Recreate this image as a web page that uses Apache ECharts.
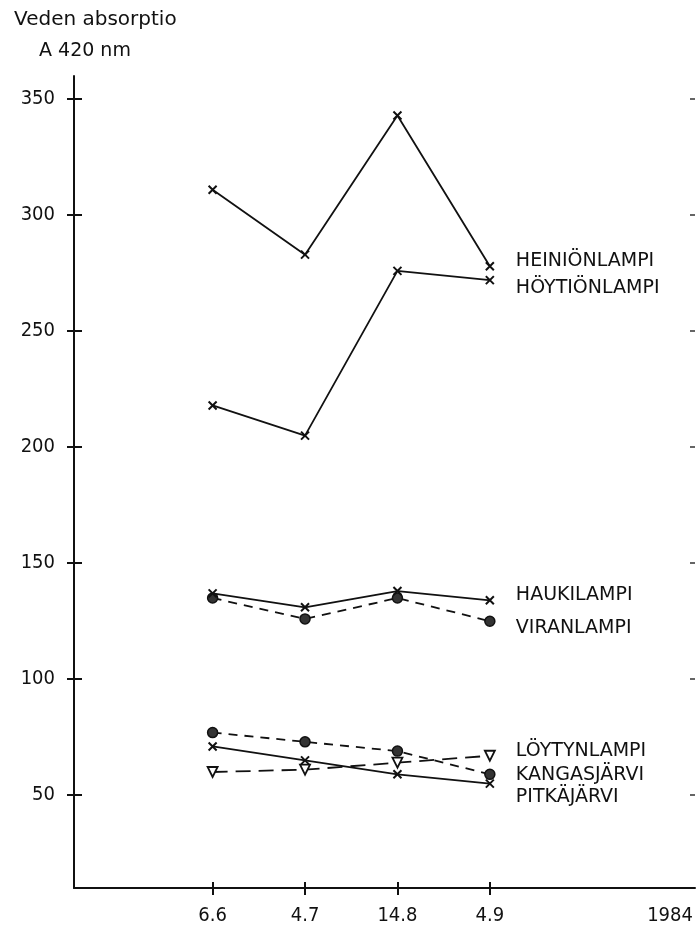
<!DOCTYPE html>
<html>
<head>
<meta charset="utf-8">
<script src="https://cdn.jsdelivr.net/npm/echarts@6/dist/echarts.min.js"></script>
<style>
  html, body { margin: 0; padding: 0; background: #fff; }
  #chart { width: 696px; height: 927px; }
</style>
</head>
<body>
<div id="chart"></div>
<script>
// Sampling dates (day.month) and the year shown at the end of the axis
const sampleDates = ['6.6', '4.7', '14.8', '4.9'];
const yearLabel = '1984';
const yTicks = [50, 100, 150, 200, 250, 300, 350];

// Water absorbance at 420 nm for each lake
const heinionlampi = [311, 283, 343, 278];
const hoytionlampi = [218, 205, 276, 272];
const haukilampi   = [137, 131, 138, 134];
const viranlampi   = [135, 126, 135, 125];
const loytynlampi  = [60, 61, 64, 67];
const kangasjarvi  = [77, 73, 69, 59];
const pitkajarvi   = [71, 65, 59, 55];

const INK = '#111';
const FONT = 'DejaVu Sans';
const FONT_C = 'DejaVu Sans Condensed';

// x positions: sample dates at 1..4, the year label near the right end
const datePos = sampleDates.map((d, i) => i + 1);
const yearPos = 5.95;
const X_MIN = -0.5, X_MAX = 6.22, Y_MIN = 10, Y_MAX = 360;

const GRID = { left: 74, right: 1, top: 76, bottom: 39 };
const CHART_W = 696, CHART_H = 927;
const gridW = CHART_W - GRID.left - GRID.right;
const gridH = CHART_H - GRID.top - GRID.bottom;

function pts(values) {
  return values.map((v, i) => [datePos[i], v]);
}

const crossMark = 'path://M0,0L10,10M10,0L0,10';

function lakeSeries(name, values, opts) {
  return {
    name: name,
    type: 'line',
    xAxisIndex: 0,
    yAxisIndex: 0,
    data: pts(values),
    symbol: opts.symbol,
    symbolSize: opts.size,
    symbolRotate: opts.rotate || 0,
    showAllSymbol: true,
    lineStyle: { color: INK, width: 1.8, type: opts.dash || 'solid' },
    itemStyle: opts.item,
    endLabel: {
      show: true,
      formatter: name,
      color: INK,
      fontFamily: FONT,
      fontSize: 19,
      distance: 0,
      offset: [26, opts.dy]
    },
    emphasis: { disabled: true },
    z: opts.z || 2
  };
}

const crossItem = { color: 'none', borderColor: INK, borderWidth: 2 };
const dotItem = { color: '#333', borderColor: INK, borderWidth: 1.5 };
const triItem = { color: '#fff', borderColor: INK, borderWidth: 1.8 };

const chart = echarts.init(document.getElementById('chart'), null, { renderer: 'canvas' });

const axisTextStyle = { color: INK, fontFamily: FONT_C, fontSize: 20 };
const tickLine = { color: INK, width: 2 };

// The main axes carry the line, labels and the inward half of each tick;
// mirrored axes moved onto the same edges add the outward half.
chart.setOption({
  animation: false,
  backgroundColor: '#fff',
  title: [
    { text: 'Veden absorptio', left: 9, top: 5,
      textStyle: { color: INK, fontFamily: FONT, fontSize: 20, fontWeight: 'normal' } },
    { text: 'A 420 nm', left: 34, top: 37,
      textStyle: { color: INK, fontFamily: FONT, fontSize: 19, fontWeight: 'normal' } }
  ],
  grid: Object.assign({ containLabel: false }, GRID),
  xAxis: [
    {
      type: 'value', min: X_MIN, max: X_MAX, position: 'bottom',
      axisLine: { show: true, onZero: false, lineStyle: { color: INK, width: 2 } },
      axisTick: { show: true, inside: true, length: 6, customValues: datePos, lineStyle: tickLine },
      axisLabel: {
        show: true, margin: 18, ...axisTextStyle,
        customValues: datePos.concat([yearPos]),
        formatter: v => (Math.abs(v - yearPos) < 1e-6 ? yearLabel : sampleDates[Math.round(v) - 1])
      },
      splitLine: { show: false }
    },
    {
      type: 'value', min: X_MIN, max: X_MAX, position: 'top', offset: -gridH,
      axisLine: { show: false, onZero: false },
      axisTick: { show: true, inside: true, length: 7, customValues: datePos, lineStyle: tickLine },
      axisLabel: { show: false },
      splitLine: { show: false }
    }
  ],
  yAxis: [
    {
      type: 'value', min: Y_MIN, max: Y_MAX, position: 'left',
      axisLine: { show: true, onZero: false, lineStyle: { color: INK, width: 2 } },
      axisTick: { show: true, inside: true, length: 8, customValues: yTicks, lineStyle: tickLine },
      axisLabel: { show: true, margin: 19, ...axisTextStyle, customValues: yTicks },
      splitLine: { show: false }
    },
    {
      type: 'value', min: Y_MIN, max: Y_MAX, position: 'right', offset: -gridW,
      axisLine: { show: false, onZero: false },
      axisTick: { show: true, inside: true, length: 7, customValues: yTicks, lineStyle: tickLine },
      axisLabel: { show: false },
      splitLine: { show: false }
    },
    {
      type: 'value', min: Y_MIN, max: Y_MAX, position: 'right',
      axisLine: { show: false, onZero: false },
      axisTick: { show: true, inside: true, length: 5, customValues: yTicks,
                  lineStyle: { color: '#333', width: 1.5 } },
      axisLabel: { show: false },
      splitLine: { show: false }
    }
  ],
  series: [
    lakeSeries('HEINIÖNLAMPI', heinionlampi, { symbol: crossMark, size: 8, item: crossItem, dy: -5 }),
    lakeSeries('HÖYTIÖNLAMPI', hoytionlampi, { symbol: crossMark, size: 8, item: crossItem, dy: 8 }),
    lakeSeries('HAUKILAMPI', haukilampi, { symbol: crossMark, size: 8, item: crossItem, dy: -5, z: 3 }),
    lakeSeries('VIRANLAMPI', viranlampi, { symbol: 'circle', size: 10, item: dotItem, dash: [9, 7], dy: 7 }),
    lakeSeries('LÖYTYNLAMPI', loytynlampi, { symbol: 'triangle', size: 10, rotate: 180, item: triItem, dash: [15, 8], dy: -5 }),
    lakeSeries('KANGASJÄRVI', kangasjarvi, { symbol: 'circle', size: 10, item: dotItem, dash: [9, 7], dy: 1 }),
    lakeSeries('PITKÄJÄRVI', pitkajarvi, { symbol: crossMark, size: 8, item: crossItem, dy: 13 })
  ]
});
</script>
</body>
</html>
